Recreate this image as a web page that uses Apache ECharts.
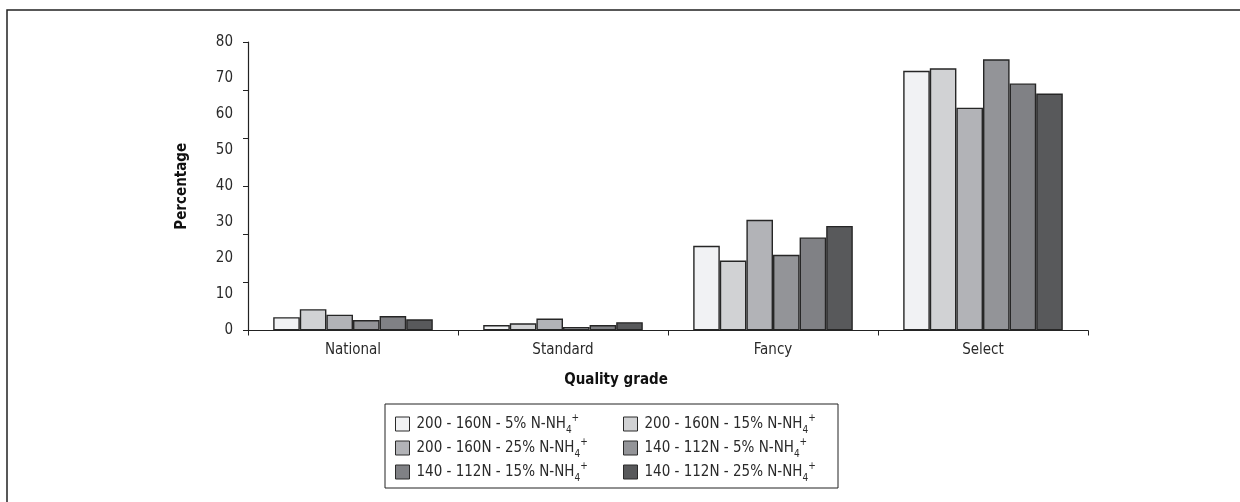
<!DOCTYPE html>
<html>
<head>
<meta charset="utf-8">
<script src="https://cdn.jsdelivr.net/npm/echarts@6/dist/echarts.min.js"></script>
<style>
html,body{margin:0;padding:0;background:#fff;}
#c{width:1240px;height:502px;}
</style>
</head>
<body>
<div id="c"></div>
<script>
var categories = ['National', 'Standard', 'Fancy', 'Select'];
var seriesNames = [
  '200 - 160N - 5% N-NH4+',
  '200 - 160N - 15% N-NH4+',
  '200 - 160N - 25% N-NH4+',
  '140 - 112N - 5% N-NH4+',
  '140 - 112N - 15% N-NH4+',
  '140 - 112N - 25% N-NH4+'
];
var s1 = [3.7, 1.5, 23.5, 72.0];
var s2 = [5.9, 2.0, 19.4, 72.7];
var s3 = [4.4, 3.3, 30.7, 61.8];
var s4 = [2.9, 1.0, 21.0, 75.2];
var s5 = [4.0, 1.5, 25.8, 68.5];
var s6 = [3.1, 2.3, 29.0, 65.7];
var seriesValues = [s1, s2, s3, s4, s5, s6];
var colors = ['#f1f2f4', '#d1d2d4', '#b2b3b7', '#939498', '#808185', '#58595b'];
var labelTicks = [0, 10, 20, 30, 40, 50, 60, 70, 80];
var markTicks = [0, 10, 20, 30, 40, 50, 60];

var FONT = '"Liberation Sans Narrow", "DejaVu Sans Condensed", "Liberation Sans", sans-serif';
var chart = echarts.init(document.getElementById('c'));

function legendFmt(name) {
  return name.replace('NH4+', 'NH{sub|4}{sup|+}');
}
var legendText = {
  fontFamily: FONT, fontSize: 15, color: '#2a2a2a', lineHeight: 22,
  padding: [0, 0, 0, 2],
  rich: {
    sub: { fontFamily: FONT, fontSize: 10, lineHeight: 10, verticalAlign: 'bottom', color: '#2a2a2a' },
    sup: { fontFamily: FONT, fontSize: 10, lineHeight: 10, verticalAlign: 'top', color: '#2a2a2a' }
  }
};

var series = seriesValues.map(function (vals, i) {
  return {
    name: seriesNames[i],
    type: 'bar',
    yAxisIndex: 0,
    data: vals,
    barGap: '0%',
    barCategoryGap: '24%',
    itemStyle: { color: colors[i], borderColor: '#262626', borderWidth: 1.4 },
    emphasis: { disabled: true }
  };
});

chart.setOption({
  animation: false,
  backgroundColor: '#fff',
  textStyle: { fontFamily: FONT },
  grid: { left: 248, right: 152, top: 42, bottom: 171.5, containLabel: false },
  graphic: [
    { type: 'rect', shape: { x: 7, y: 10, width: 1300, height: 600 },
      style: { fill: 'none', stroke: '#222', lineWidth: 1.5 }, z: -1 },
    { type: 'rect', shape: { x: 385, y: 404, width: 453, height: 84 },
      style: { fill: 'none', stroke: '#222', lineWidth: 1 }, z: 10 }
  ],
  legend: [
    {
      data: [seriesNames[0], seriesNames[2], seriesNames[4]],
      orient: 'vertical', left: 395, top: 413, padding: 0,
      itemWidth: 14, itemHeight: 14, itemGap: 2, icon: 'rect',
      itemStyle: { borderColor: '#2a2a2a', borderWidth: 1 },
      formatter: legendFmt, textStyle: legendText, selectedMode: false
    },
    {
      data: [seriesNames[1], seriesNames[3], seriesNames[5]],
      orient: 'vertical', left: 623, top: 413, padding: 0,
      itemWidth: 14, itemHeight: 14, itemGap: 2, icon: 'rect',
      itemStyle: { borderColor: '#2a2a2a', borderWidth: 1 },
      formatter: legendFmt, textStyle: legendText, selectedMode: false
    }
  ],
  xAxis: {
    type: 'category',
    data: categories,
    name: 'Quality grade',
    nameLocation: 'middle',
    nameGap: 42,
    nameTextStyle: { fontFamily: FONT, fontSize: 15, fontWeight: 'bold', color: '#111', padding: [0, 104, 0, 0] },
    axisLine: { lineStyle: { color: '#222', width: 1.2 } },
    axisTick: { show: true, length: 5, lineStyle: { color: '#222' } },
    axisLabel: { fontFamily: FONT, fontSize: 15, color: '#2a2a2a', margin: 12 }
  },
  yAxis: [
    {
      type: 'value', min: 0, max: labelTicks[labelTicks.length - 1], interval: 10,
      name: 'Percentage', nameLocation: 'middle', nameGap: 58,
      nameTextStyle: { fontFamily: FONT, fontSize: 15, fontWeight: 'bold', color: '#111' },
      axisLine: { show: false }, axisTick: { show: false }, splitLine: { show: false },
      axisLabel: { fontFamily: FONT, fontSize: 15, color: '#2a2a2a', margin: 15 }
    },
    {
      type: 'value', position: 'left', min: 0, max: markTicks[markTicks.length - 1], interval: 10,
      axisLine: { show: true, lineStyle: { color: '#222', width: 1.2 } },
      axisTick: { show: true, length: 5, lineStyle: { color: '#222' } },
      axisLabel: { show: false }, splitLine: { show: false }
    }
  ],
  series: series
});
</script>
</body>
</html>
